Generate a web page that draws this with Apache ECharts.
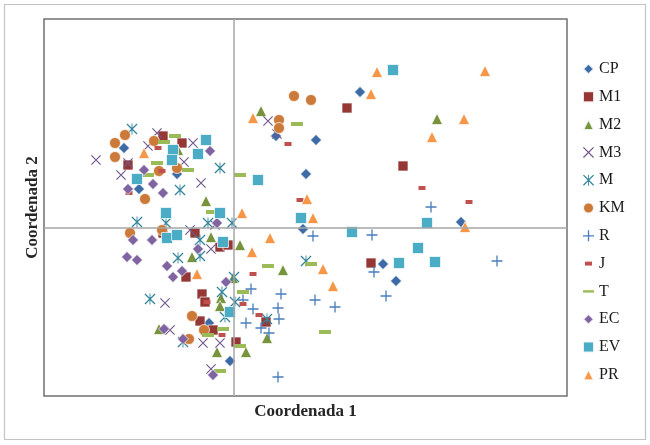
<!DOCTYPE html>
<html><head><meta charset="utf-8">
<script src="https://cdn.jsdelivr.net/npm/echarts@6/dist/echarts.min.js"></script>
<style>html,body{margin:0;padding:0;background:#fff}#c{width:650px;height:445px}</style>
</head><body><div id="c"></div>
<script>
const seriesNames = ['CP','M1','M2','M3','M','KM','R','J','T','EC','EV','PR'];
const xTitle = 'Coordenada 1';
const yTitle = 'Coordenada 2';

const CP = [[-1.10,0.80],[-0.95,0.39],[-0.57,0.54],[0.42,0.92],[0.82,0.88],[1.26,1.36],[0.72,0.54],[0.69,-0.01],[1.49,-0.36],[1.62,-0.53],[2.27,0.06],[-0.04,-1.33],[-0.25,-0.95]];
const M1 = [[-1.06,0.63],[-0.71,0.92],[-0.52,0.85],[-0.71,-0.05],[-0.39,-0.05],[-0.14,-0.19],[-0.06,-0.17],[-0.48,-0.49],[-0.32,-0.66],[-0.29,-0.74],[-0.34,-0.93],[-0.21,-1.02],[0.02,-1.14],[0.32,-0.94],[1.13,1.20],[1.69,0.62],[1.37,-0.35]];
const M2 = [[0.27,1.17],[2.03,1.09],[-0.56,0.78],[-0.28,0.27],[-0.23,-0.09],[0.06,-0.17],[-0.42,-0.29],[0.49,-0.42],[-0.01,-0.50],[-0.13,-0.70],[-0.14,-0.78],[-0.75,-1.01],[-0.17,-1.24],[0.12,-1.24],[0.33,-1.10]];
const M3 = [[-1.38,0.68],[-0.86,0.82],[-1.06,0.65],[-1.13,0.53],[-0.77,0.95],[-0.41,0.85],[-0.50,0.66],[-0.33,0.45],[-0.44,-0.02],[-0.19,0.03],[0.34,1.07],[0.43,0.94],[-0.69,-0.75],[-0.64,-1.02],[-0.31,-1.15],[-0.14,-1.15],[-0.23,-1.41],[-0.23,-0.21]];
const M = [[-1.02,0.99],[-0.14,0.60],[-0.54,0.38],[-0.97,0.06],[-0.68,0.05],[-0.26,0.05],[-0.02,0.05],[-0.34,-0.12],[-0.56,-0.30],[-0.34,-0.28],[-0.84,-0.71],[-0.12,-0.64],[0.00,-0.49],[-0.09,-0.89],[0.01,-0.74],[-0.51,-1.14],[0.72,-0.33],[0.33,-0.91]];
const KM = [[-1.09,0.93],[-1.19,0.85],[-1.19,0.71],[-0.89,0.29],[-0.80,0.87],[-0.57,0.60],[-0.75,0.57],[-1.04,-0.05],[-0.72,-0.02],[0.60,1.32],[0.77,1.28],[0.45,1.08],[0.45,1.00],[-0.42,-0.88],[-0.30,-1.02],[-0.45,-1.11]];
const R = [[0.79,-0.08],[1.38,-0.07],[1.40,-0.44],[1.52,-0.68],[1.97,0.21],[2.63,-0.33],[0.17,-0.61],[0.47,-0.66],[0.81,-0.72],[1.01,-0.79],[0.09,-0.72],[0.19,-0.81],[0.44,-0.80],[0.12,-0.95],[0.45,-0.91],[0.27,-1.00],[0.35,-1.05],[0.44,-1.49]];
const J = [[0.54,0.84],[0.66,0.28],[1.88,0.40],[2.35,0.26],[0.19,-0.46],[0.09,-0.76],[0.25,-0.87],[-0.76,0.80],[-0.72,0.57],[-1.05,0.35],[-0.27,-0.74],[-0.12,-1.07]];
const T = [[-0.59,0.92],[-0.70,0.86],[-0.77,0.65],[-0.46,0.58],[-0.86,0.53],[-0.22,0.16],[0.06,0.53],[0.63,1.04],[0.34,-0.38],[0.77,-0.36],[0.09,-0.64],[0.91,-1.04],[-0.11,-1.01],[-0.26,-1.07],[-0.14,-1.43],[0.06,-1.18]];
const EC = [[-0.90,0.58],[-1.06,0.39],[-0.81,0.44],[-0.71,0.35],[-0.24,0.77],[-1.01,-0.12],[-0.82,-0.12],[-0.17,0.05],[-0.36,-0.21],[-1.07,-0.29],[-0.97,-0.32],[-0.67,-0.38],[-0.61,-0.49],[-0.52,-0.43],[-0.08,-0.54],[-0.70,-1.01],[-0.51,-1.11],[-0.21,-1.47]];
const EV = [[1.59,1.58],[0.24,0.48],[0.67,0.10],[1.18,-0.04],[1.65,-0.35],[1.93,0.05],[1.84,-0.20],[2.01,-0.34],[-0.28,0.88],[-0.61,0.78],[-0.62,0.68],[-0.36,0.74],[-0.97,0.49],[-0.68,0.15],[-0.14,0.15],[-0.67,-0.10],[-0.57,-0.07],[-0.11,-0.14],[-0.04,-0.84]];
const PR = [[2.51,1.57],[2.30,1.09],[1.98,0.91],[2.31,0.01],[1.43,1.56],[1.37,1.34],[0.19,1.10],[0.73,0.29],[0.79,0.10],[0.08,0.15],[0.36,-0.10],[0.18,-0.24],[0.89,-0.41],[0.99,-0.58],[-0.90,0.75],[-0.37,-0.46]];

const X_PATH = 'path://M0,1.6L1.6,0L20,18.4L18.4,20Z M18.4,0L20,1.6L1.6,20L0,18.4Z';
const STAR_PATH = X_PATH + ' M9.2,0L10.8,0L10.8,20L9.2,20Z';
const PLUS_PATH = 'path://M8.8,0H11.2V8.8H20V11.2H11.2V20H8.8V11.2H0V8.8H8.8Z';
const J_ICON = 'path://M0,0M20,20M3.6,6.4H16.4V13.6H3.6Z';
const T_ICON = 'path://M0,0M20,20M0,7.8H20V12.2H0Z';

const styles = {
  CP: {data: CP, symbol: 'diamond', size: 11, color: '#3c6ba5', border: true},
  M1: {data: M1, symbol: 'rect', size: 10, color: '#953735', border: true},
  M2: {data: M2, symbol: 'triangle', size: 11, color: '#77933c', border: true},
  M3: {data: M3, symbol: X_PATH, size: 10, color: '#71588f', border: false},
  M: {data: M, symbol: STAR_PATH, size: 11, color: '#31859c', border: false},
  KM: {data: KM, symbol: 'circle', size: 11, color: '#cc7a3a', border: true},
  R: {data: R, symbol: PLUS_PATH, size: 11, color: '#4a7ebb', border: false},
  J: {data: J, symbol: 'rect', size: [7, 4], color: '#c0504d', border: false, icon: J_ICON},
  T: {data: T, symbol: 'rect', size: [12, 4], color: '#9bbb59', border: false, icon: T_ICON},
  EC: {data: EC, symbol: 'diamond', size: 11, color: '#8064a2', border: true},
  EV: {data: EV, symbol: 'rect', size: 11, color: '#4bacc6', border: true},
  PR: {data: PR, symbol: 'triangle', size: 11, color: '#f79646', border: true}
};

const series = [{
  type: 'scatter', name: '_zero', data: [], z: 1, silent: true,
  markLine: {
    silent: true, symbol: 'none', animation: false, label: {show: false},
    lineStyle: {color: '#a6a6a6', width: 1.5, type: 'solid'},
    data: [{xAxis: 0}, {yAxis: 0}]
  }
}];
seriesNames.forEach(n => {
  const s = styles[n];
  series.push({
    name: n, type: 'scatter', data: s.data, symbol: s.symbol, symbolSize: s.size, z: 2,
    itemStyle: {color: s.color, opacity: 1, borderColor: 'rgba(255,255,255,0.85)', borderWidth: s.border ? 0.8 : 0},
    emphasis: {disabled: true}
  });
});

const chart = echarts.init(document.getElementById('c'), null, {renderer: 'canvas'});
chart.setOption({
  animation: false,
  backgroundColor: '#ffffff',
  grid: {left: 44, right: 83, top: 19, bottom: 49, show: true, borderColor: '#707070', borderWidth: 1.5, backgroundColor: 'transparent'},
  xAxis: {
    type: 'value', min: -1.90, max: 3.33,
    axisLine: {show: false}, axisTick: {show: false}, axisLabel: {show: false}, splitLine: {show: false},
    name: xTitle, nameLocation: 'middle', nameGap: 7,
    nameTextStyle: {fontFamily: 'Liberation Serif', fontWeight: 'bold', fontSize: 17, color: '#262626', verticalAlign: 'top'}
  },
  yAxis: {
    type: 'value', min: -1.68, max: 2.09,
    axisLine: {show: false}, axisTick: {show: false}, axisLabel: {show: false}, splitLine: {show: false},
    name: yTitle, nameLocation: 'middle', nameGap: 3,
    nameTextStyle: {fontFamily: 'Liberation Serif', fontWeight: 'bold', fontSize: 17, color: '#262626'}
  },
  legend: {
    orient: 'vertical', left: 582, top: 61, itemWidth: 11, itemHeight: 11, itemGap: 11.8, padding: 0,
    textStyle: {fontFamily: 'Liberation Serif', fontSize: 16, color: '#1a1a1a', padding: [0, 0, 0, 0]},
    data: seriesNames.map(n => styles[n].icon ? {name: n, icon: styles[n].icon} : {name: n}),
    selectedMode: false
  },
  graphic: [{
    type: 'rect', silent: true, z: -1,
    shape: {x: 4.5, y: 4.5, width: 641, height: 435},
    style: {fill: 'none', stroke: '#c4c4c4', lineWidth: 1.2}
  }],
  series: series
});
</script></body></html>
